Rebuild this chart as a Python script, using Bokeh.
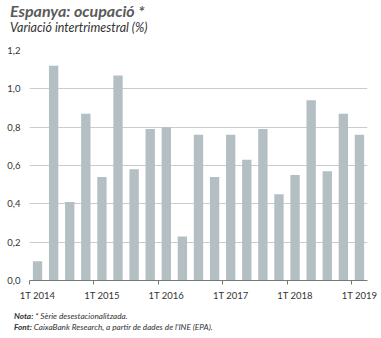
from bokeh.plotting import figure
from bokeh.models import Range1d, FixedTicker, CustomJSTickFormatter, Div
from bokeh.layouts import column
from bokeh.embed import file_html
from bokeh.resources import INLINE

quarters = ["1T 2014", "2T 2014", "3T 2014", "4T 2014",
            "1T 2015", "2T 2015", "3T 2015", "4T 2015",
            "1T 2016", "2T 2016", "3T 2016", "4T 2016",
            "1T 2017", "2T 2017", "3T 2017", "4T 2017",
            "1T 2018", "2T 2018", "3T 2018", "4T 2018",
            "1T 2019"]
values = [0.10, 1.12, 0.41, 0.87, 0.54, 1.07, 0.58, 0.79, 0.80, 0.23, 0.76,
          0.54, 0.76, 0.63, 0.79, 0.45, 0.55, 0.94, 0.57, 0.87, 0.76]
y_ticks = [0.0, 0.2, 0.4, 0.6, 0.8, 1.0, 1.2]

title = "Espanya: ocupació *"
subtitle = "Variació intertrimestral (%)"
note_head, note_text = "Nota:", "* Sèrie desestacionalitzada."
font_head, font_text = "Font:", "CaixaBank Research, a partir de dades de l'INE (EPA)."

FONT = "Lato"
xs = list(range(len(quarters)))

p = figure(width=381, height=263, output_backend="svg", toolbar_location=None,
           x_range=Range1d(-0.5, len(quarters) - 0.5), y_range=Range1d(0, 1.2),
           min_border_left=29, min_border_right=14, min_border_top=10, min_border_bottom=21)
p.outline_line_color = None
p.background_fill_color = "white"

p.vbar(x=xs, top=values, width=0.58, color="#b3bfc3", line_color=None)

# x axis
label_pos = [i for i, q in enumerate(quarters) if q.startswith("1T")]
p.xaxis.ticker = FixedTicker(ticks=label_pos, minor_ticks=[i - 0.5 for i in label_pos])
p.xaxis.major_label_overrides = {i: quarters[i] for i in label_pos}
p.xaxis.major_tick_out = 0
p.xaxis.major_tick_in = 0
p.xaxis.minor_tick_out = 4
p.xaxis.minor_tick_in = 0
p.xaxis.minor_tick_line_color = "#777777"
p.xaxis.axis_line_color = "#777777"
p.xaxis.major_label_standoff = 5
p.xaxis.major_label_text_font = FONT
p.xaxis.major_label_text_font_size = "9.5px"
p.xaxis.major_label_text_color = "#333333"
p.xgrid.grid_line_color = None

# y axis
p.yaxis.ticker = FixedTicker(ticks=y_ticks)
p.yaxis.formatter = CustomJSTickFormatter(code="return tick.toFixed(1).replace('.', ',');")
p.yaxis.axis_line_color = None
p.yaxis.major_tick_line_color = None
p.yaxis.minor_tick_line_color = None
p.yaxis.major_label_standoff = 3
p.yaxis.major_label_text_font = FONT
p.yaxis.major_label_text_font_size = "9.5px"
p.yaxis.major_label_text_color = "#333333"
p.ygrid.grid_line_color = "#cccccc"
p.ygrid.grid_line_width = 1

head = Div(width=381, height=40, margin=0, text=(
    f'<div style="font-family:{FONT};padding:2px 0 0 10px;">'
    f'<div style="font-size:16px;line-height:18px;font-weight:bold;font-style:italic;color:#5a5a5a;">{title}</div>'
    f'<div style="font-size:12.5px;line-height:15px;font-style:italic;color:#333333;">{subtitle}</div>'
    '</div>'))

foot = Div(width=381, height=35, margin=0, text=(
    f'<div style="font-family:{FONT};padding:8px 0 0 14px;font-size:8.2px;line-height:11px;'
    'font-style:italic;color:#333333;">'
    f'<div><b>{note_head}</b> {note_text}</div>'
    f'<div><b>{font_head}</b> {font_text}</div>'
    '</div>'))

layout = column(head, p, foot, spacing=0, margin=0)
open("out.html", "w").write(file_html(layout, INLINE))
